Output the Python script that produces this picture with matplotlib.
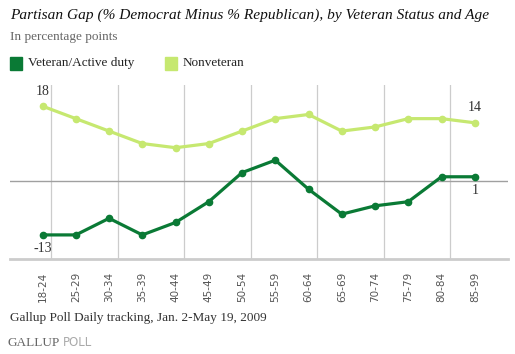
import matplotlib.pyplot as plt
import numpy as np

ages = ["18-24", "25-29", "30-34", "35-39", "40-44", "45-49", "50-54",
        "55-59", "60-64", "65-69", "70-74", "75-79", "80-84", "85-99"]
veteran = [-13, -13, -9, -13, -10, -5, 2, 5, -2, -8, -6, -5, 1, 1]
nonveteran = [18, 15, 12, 9, 8, 9, 12, 15, 16, 12, 13, 15, 15, 14]

dark = "#0a7a35"
light = "#c6e870"
serif = "Liberation Serif"

W, H = 515, 354
fig = plt.figure(figsize=(W / 100, H / 100), dpi=100)
ax = fig.add_axes([10 / W, 1 - 259 / H, 498 / W, 174 / H])

x = np.arange(len(ages))
for gx in np.arange(0.26, 14, 2):
    ax.axvline(gx, color="#cccccc", lw=0.9, zorder=0)
ax.axhline(0, color="#a0a0a0", lw=1.0, zorder=1)

ax.plot(x, nonveteran, color=light, lw=2.3, marker="o", ms=4.5, zorder=3)
ax.plot(x, veteran, color=dark, lw=2.3, marker="o", ms=4.5, zorder=4)

lab = dict(fontsize=10, family=serif, color="#333333", ha="center")
ax.annotate(str(nonveteran[0]), (x[0], nonveteran[0]), xytext=(0, 6),
            textcoords="offset points", va="bottom", **lab)
ax.annotate(str(veteran[0]), (x[0], veteran[0]), xytext=(0, -5),
            textcoords="offset points", va="top", **lab)
ax.annotate(str(nonveteran[-1]), (x[-1], nonveteran[-1]), xytext=(0, 6),
            textcoords="offset points", va="bottom", **lab)
ax.annotate(str(veteran[-1]), (x[-1], veteran[-1]), xytext=(0, -5),
            textcoords="offset points", va="top", **lab)

ax.set_xlim(-0.98, 14.0)
ax.set_ylim(-18.8, 23.1)
ax.set_xticks(x)
ax.set_xticklabels(ages, rotation=90, fontsize=7.5, color="#555555")
ax.set_yticks([])
ax.tick_params(axis="x", length=0, pad=9)
for s in ["top", "right", "left"]:
    ax.spines[s].set_visible(False)
ax.spines["bottom"].set_color("#cccccc")
ax.spines["bottom"].set_linewidth(2)

fig.text(10 / W, 1 - 15 / H, "Partisan Gap (% Democrat Minus % Republican), by Veteran Status and Age",
         family=serif, style="italic", fontsize=11.1, color="#111111", va="center")
fig.text(10 / W, 1 - 37 / H, "In percentage points", family=serif,
         fontsize=9.5, color="#666666", va="center")

fig.patches.append(plt.Rectangle((10 / W, 1 - 70 / H), 12 / W, 13 / H,
                                 transform=fig.transFigure, color=dark))
fig.text(28 / W, 1 - 63 / H, "Veteran/Active duty", family=serif,
         fontsize=9.5, color="#222222", va="center")
fig.patches.append(plt.Rectangle((165 / W, 1 - 70 / H), 12 / W, 13 / H,
                                 transform=fig.transFigure, color=light))
fig.text(183 / W, 1 - 63 / H, "Nonveteran", family=serif,
         fontsize=9.5, color="#222222", va="center")

fig.text(10 / W, 1 - 318 / H, "Gallup Poll Daily tracking, Jan. 2-May 19, 2009",
         family=serif, fontsize=9.5, color="#333333", va="center")
fig.text(7 / W, 1 - 343 / H, "GALLUP", family=serif,
         fontsize=9.5, color="#666666", va="center")
fig.text(63 / W, 1 - 343 / H, "POLL", family="DejaVu Sans",
         fontsize=8.5, color="#aaaaaa", va="center")

fig.savefig("out.png", dpi=100)
